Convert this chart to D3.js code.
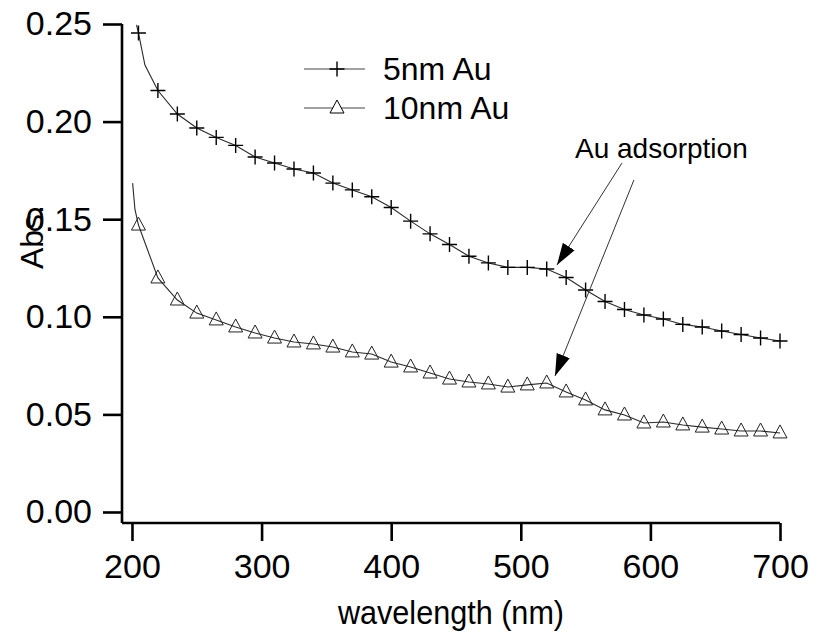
<!DOCTYPE html>
<html>
<head>
<meta charset="utf-8">
<script src="https://cdn.jsdelivr.net/npm/d3@7"></script>
<style>
  html, body { margin: 0; padding: 0; background: #fff; }
  svg { display: block; }
  text { font-family: "Liberation Sans", Arial, sans-serif; fill: #000; }
</style>
</head>
<body>
<svg id="chart" width="817" height="642"></svg>
<script>
// ---- data ----
const wavelengths = [205, 220, 235, 250, 265, 280, 295, 310, 325, 340, 355, 370, 385, 400, 415, 430, 445,
  460, 475, 490, 505, 520, 535, 550, 565, 580, 595, 610, 625, 640, 655, 670, 685, 700];
const abs5nm = [0.2454, 0.2159, 0.2039, 0.1967, 0.1919, 0.1878, 0.1819, 0.1788, 0.1757, 0.1737, 0.1685,
  0.1650, 0.1615, 0.1560, 0.1490, 0.1425, 0.1370, 0.1310, 0.1276, 0.1253, 0.1253, 0.1245, 0.1201, 0.1137,
  0.1078, 0.1037, 0.1009, 0.0989, 0.0961, 0.0948, 0.0927, 0.0909, 0.0891, 0.0876];
const abs10nm = [0.1470, 0.1199, 0.1086, 0.1019, 0.0984, 0.0948, 0.0917, 0.0891, 0.0871, 0.0861, 0.0845,
  0.0820, 0.0809, 0.0768, 0.0743, 0.0712, 0.0681, 0.0666, 0.0656, 0.0640, 0.0651, 0.0661, 0.0615, 0.0574,
  0.0523, 0.0497, 0.0456, 0.0461, 0.0446, 0.0435, 0.0425, 0.0415, 0.0415, 0.0405];
const head5nm = [[203.5, 0.2495], [205, 0.2454], [210, 0.2290]];
const head10nm = [[200.5, 0.1685], [202.3, 0.1550]];
const seriesNames = ["5nm Au", "10nm Au"];
const xTicks = [200, 300, 400, 500, 600, 700];
const yTicks = [0.00, 0.05, 0.10, 0.15, 0.20, 0.25];
const xLabel = "wavelength (nm)";
const yLabel = "Abs.";
const noteText = "Au adsorption";
// annotation arrows in data coordinates: [fromX, fromY, toX, toY]
const arrows = [[578.1, 0.1788, 527.9, 0.1265], [587.3, 0.1701, 526.4, 0.0697]];
const notePos = [541.8, 0.1814];

// ---- chart ----
const svg = d3.select("#chart");
const x = d3.scaleLinear().domain([192.3, 700]).range([122, 780]);
const y = d3.scaleLinear().domain([-0.00564, 0.25]).range([523, 24]);

// axes
const yAxis = d3.axisLeft(y).tickValues(yTicks).tickFormat(d3.format(".2f")).tickSizeInner(19).tickSizeOuter(0).tickPadding(11);
const xAxis = d3.axisBottom(x).tickValues(xTicks).tickFormat(d3.format("d")).tickSizeInner(18).tickSizeOuter(0).tickPadding(13);

const gy = svg.append("g").attr("transform", "translate(122,0)").call(yAxis);
const gx = svg.append("g").attr("transform", "translate(0,523)").call(xAxis);
[gx, gy].forEach(g => {
  g.select(".domain").attr("stroke", "#000").attr("stroke-width", 2.6);
  g.selectAll(".tick line").attr("stroke", "#000").attr("stroke-width", 2.6);
  g.selectAll(".tick text").attr("font-family", "Liberation Sans, Arial, sans-serif").attr("font-size", 34).attr("fill", "#000");
});
gy.select(".domain").attr("d", `M0,${y(0.25)}V523`);
gx.select(".domain").attr("d", `M122,0H780`);

// axis titles
svg.append("text").attr("transform", "translate(451,624) scale(0.9,1)").attr("text-anchor", "middle")
  .attr("font-size", 34).text(xLabel);
svg.append("text").attr("transform", "translate(43,237) rotate(-90)").attr("text-anchor", "middle")
  .attr("font-size", 32).text(yLabel);

// lines
const line = d3.line().x(d => x(d[0])).y(d => y(d[1]));
const pts5 = head5nm.concat(wavelengths.map((w, i) => [w, abs5nm[i]]).slice(1));
const pts10 = head10nm.concat(wavelengths.map((w, i) => [w, abs10nm[i]]));
svg.append("path").datum(pts5).attr("d", line).attr("fill", "none").attr("stroke", "#2a2a2a").attr("stroke-width", 1.1);
svg.append("path").datum(pts10).attr("d", line).attr("fill", "none").attr("stroke", "#2a2a2a").attr("stroke-width", 1.1);

// markers
const crossPath = "M-7.5,0H7.5M0,-7.5V7.5";
const triPath = "M0,-8L7,5H-7Z";
svg.append("g").selectAll("path").data(wavelengths).join("path")
  .attr("transform", (w, i) => `translate(${x(w)},${y(abs5nm[i])})`)
  .attr("d", crossPath).attr("stroke", "#000").attr("stroke-width", 1.4).attr("fill", "none");
svg.append("g").selectAll("path").data(wavelengths).join("path")
  .attr("transform", (w, i) => `translate(${x(w)},${y(abs10nm[i])})`)
  .attr("d", triPath).attr("stroke", "#222").attr("stroke-width", 1).attr("fill", "none");

// legend
const leg = svg.append("g");
[[69, crossPath, 1.4], [108, triPath, 1]].forEach((row, i) => {
  leg.append("line").attr("x1", 304).attr("x2", 365).attr("y1", row[0]).attr("y2", row[0])
    .attr("stroke", "#444").attr("stroke-width", 1.2);
  leg.append("path").attr("transform", `translate(337,${row[0]})`).attr("d", row[1])
    .attr("stroke", "#000").attr("stroke-width", row[2]).attr("fill", i === 1 ? "#fff" : "none");
  leg.append("text").attr("x", 383).attr("y", row[0] + 11).attr("font-size", 32).text(seriesNames[i]);
});

// annotation
svg.append("defs").append("marker").attr("id", "ah").attr("viewBox", "0 0 22 14")
  .attr("refX", 22).attr("refY", 7).attr("markerWidth", 22).attr("markerHeight", 14)
  .attr("markerUnits", "userSpaceOnUse").attr("orient", "auto")
  .append("path").attr("d", "M0,0L22,7L0,14Z").attr("fill", "#000");
svg.append("g").selectAll("line").data(arrows).join("line")
  .attr("x1", d => x(d[0])).attr("y1", d => y(d[1])).attr("x2", d => x(d[2])).attr("y2", d => y(d[3]))
  .attr("stroke", "#333").attr("stroke-width", 1).attr("marker-end", "url(#ah)");
svg.append("text").attr("x", x(notePos[0])).attr("y", y(notePos[1])).attr("font-size", 28).text(noteText);
</script>
</body>
</html>
